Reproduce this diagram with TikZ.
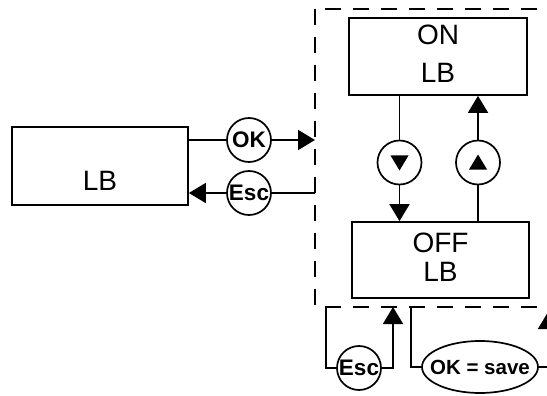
\documentclass[tikz,border=0pt]{standalone}
\usepackage{fontspec}
\setmainfont{Liberation Sans}
\usetikzlibrary{arrows.meta,shapes.geometric}
\begin{document}
\begin{tikzpicture}[x=1pt,y=-1pt,
  line width=1.7pt,
  >={Triangle[length=17pt,width=20pt]},
  box/.style={draw,rectangle,inner sep=0pt},
  key/.style={draw,circle,minimum size=44pt,inner sep=0pt,font=\fontsize{22.5}{22.5}\selectfont\bfseries},
  arrc/.style={draw,circle,minimum size=44pt,inner sep=0pt},
  frame/.style={dash pattern=on 16pt off 12pt},
  big/.style={font=\fontsize{28}{38}\selectfont,align=center,inner sep=0pt}
]
\useasboundingbox (0,0) rectangle (547,396);
\clip (0,0) rectangle (547,396);

% boxes
\node[box,minimum width=176pt,minimum height=78pt] (lb) at (100,166) {};
\node[big] (lbt) at (100,181) {LB};
\node[box,minimum width=178pt,minimum height=77pt] (on) at (438,56.5) {};
\node[big] (ont) at (438,54) {ON\\LB};
\node[box,minimum width=177pt,minimum height=76pt] (off) at (440.5,260) {};
\node[big,font=\fontsize{28}{29}\selectfont] (offt) at (440.5,257) {OFF\\LB};

% keys
\node[key] (ok) at (249,140) {OK};
\node[key] (esc) at (249,193) {Esc};
\node[arrc] (dn) at (399.5,162.5) {};
\node[arrc] (up) at (478,162.5) {};
\node[key] (esc2) at (359,368) {Esc};
\node[draw,ellipse,minimum width=116pt,minimum height=52pt,inner xsep=-9pt,inner ysep=0pt,
      font=\fontsize{20.5}{21}\selectfont\bfseries] (save) at (480,367) {OK = save};

% triangle symbols
\fill ([shift={(-9,-7)}]dn.center) -- ([shift={(9,-7)}]dn.center) -- ([shift={(0,8)}]dn.center) -- cycle;
\fill ([shift={(-9,7)}]up.center) -- ([shift={(9,7)}]up.center) -- ([shift={(0,-8)}]up.center) -- cycle;

% dashed frame
\coordinate (fTL) at (315,9);
\coordinate (fBR) at (562,307);
\draw[frame] (fTL) rectangle (fBR);

% connectors left
\draw (lb.east |- ok) -- (ok);
\draw[->] (ok) -- (ok -| fTL);
\draw (esc -| fTL) -- (esc);
\draw[->] (esc) -- (lb.east |- esc);

% inside frame
\draw (on.south -| dn) -- (dn);
\draw[->] (dn) -- (off.north -| dn);
\draw (off.north -| up) -- (up);
\draw[->] (up) -- (on.south -| up);

% bottom
\coordinate (b1) at (326,307);
\coordinate (b2) at (393,307);
\coordinate (b3) at (411,307);
\coordinate (b4) at (548,312);
\draw (b1) |- (esc2);
\draw[->] (esc2) -| (b2);
\draw (b3) |- (save);
\draw[->] (save) -| (b4);
\end{tikzpicture}
\end{document}
